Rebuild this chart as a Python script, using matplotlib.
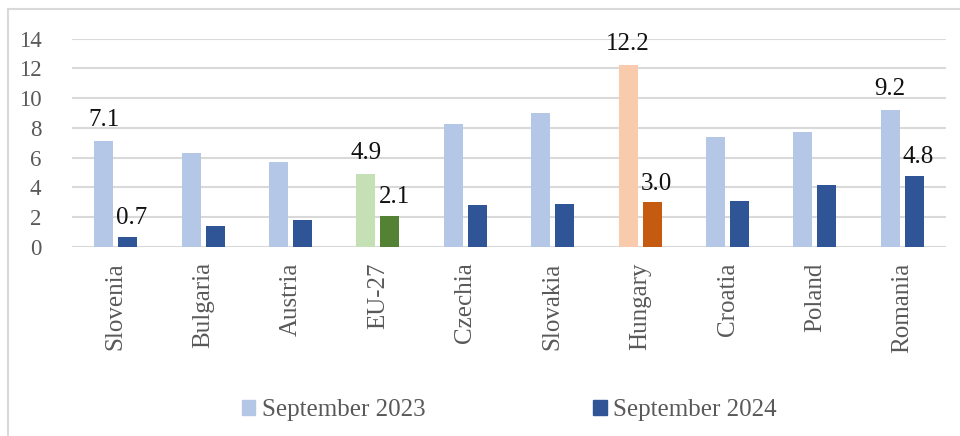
import numpy as np
import matplotlib
matplotlib.use("Agg")
import matplotlib.pyplot as plt
from matplotlib.patches import Rectangle, Patch

countries = ["Slovenia", "Bulgaria", "Austria", "EU-27", "Czechia",
             "Slovakia", "Hungary", "Croatia", "Poland", "Romania"]
sep_2023 = [7.1, 6.3, 5.7, 4.9, 8.3, 9.0, 12.2, 7.4, 7.7, 9.2]
sep_2024 = [0.7, 1.4, 1.8, 2.1, 2.8, 2.9, 3.0, 3.1, 4.2, 4.8]
labelled = ["Slovenia", "EU-27", "Hungary", "Romania"]
y_ticks = [0, 2, 4, 6, 8, 10, 12, 14]

light_blue = "#B4C7E7"
dark_blue = "#2F5597"
highlight = {"EU-27": ("#C5E0B4", "#548235"),
             "Hungary": ("#F8CBAD", "#C55A11")}

plt.rcParams["font.family"] = ["Liberation Serif", "DejaVu Serif"]

fig = plt.figure(figsize=(9.6, 4.36), dpi=100)
ax = fig.add_axes([72 / 960, 1 - 247 / 436, 874 / 960, (247 - 38.7) / 436])

x = np.arange(len(countries))
w = 0.217
off = 0.1375
c23 = [highlight.get(c, (light_blue, dark_blue))[0] for c in countries]
c24 = [highlight.get(c, (light_blue, dark_blue))[1] for c in countries]
b1 = ax.bar(x - off, sep_2023, w, color=c23, zorder=3)
b2 = ax.bar(x + off, sep_2024, w, color=c24, zorder=3)

for i, c in enumerate(countries):
    if c in labelled:
        ax.annotate(f"{sep_2023[i]:.1f}", (x[i] - off, sep_2023[i]),
                    xytext=(0, 11), textcoords="offset points",
                    ha="center", va="baseline", fontsize=18, color="#111111",
                    annotation_clip=False)
        ax.annotate(f"{sep_2024[i]:.1f}", (x[i] + off, sep_2024[i]),
                    xytext=(3, 9), textcoords="offset points",
                    ha="center", va="baseline", fontsize=18, color="#111111",
                    annotation_clip=False)

ax.set_xlim(-0.5, len(countries) - 0.5)
ax.set_ylim(0, 14)
ax.set_yticks(y_ticks)
ax.yaxis.grid(True, color="#D9D9D9", linewidth=1.5, zorder=0)
ax.set_axisbelow(True)
for s in ax.spines.values():
    s.set_visible(False)
ax.tick_params(axis="both", length=0, colors="#595959")
ax.tick_params(axis="y", pad=22, labelsize=16.5)
ax.tick_params(axis="x", pad=11, labelsize=18)
ax.set_xticks(x)
ax.set_xticklabels(countries, rotation=90, va="top", ha="center")

handles = [Patch(color=light_blue), Patch(color=dark_blue)]
fig.legend(handles, ["September 2023", "September 2024"], loc="center",
           bbox_to_anchor=(509 / 960, 1 - 410 / 436), ncol=2, frameon=False,
           fontsize=18, labelcolor="#595959", handlelength=0.55,
           handleheight=0.55, handletextpad=0.25, columnspacing=6.7)

# light frame around the chart area, open on the right and bottom
fig.patches.append(Rectangle((8 / 960, -0.2), 1.2, 1.2 - 9 / 436,
                             transform=fig.transFigure, fill=False,
                             edgecolor="#D9D9D9", linewidth=1.5))

fig.savefig("out.png", dpi=100)
